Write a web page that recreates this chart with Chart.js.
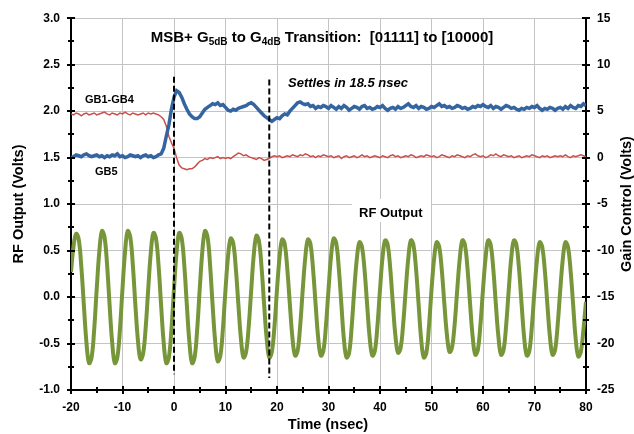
<!DOCTYPE html>
<html>
<head>
<meta charset="utf-8">
<script src="https://cdn.jsdelivr.net/npm/chart.js@4.4.0/dist/chart.umd.min.js"></script>
<style>
html,body{margin:0;padding:0;background:#fff;}
canvas{display:block;}
</style>
</head>
<body>
<canvas id="c" width="634" height="434"></canvas>
<script>
// ---- Data ----
const timeNs = [
 -20,-19.5,-19,-18.5,-18,-17.5,-17,-16.5,-16,-15.5,
 -15,-14.5,-14,-13.5,-13,-12.5,-12,-11.5,-11,-10.5,
 -10,-9.5,-9,-8.5,-8,-7.5,-7,-6.5,-6,-5.5,
 -5,-4.5,-4,-3.5,-3,-2.5,-2,-1.5,-1,-0.5,
 0,0.5,1,1.5,2,2.5,3,3.5,4,4.5,
 5,5.5,6,6.5,7,7.5,8,8.5,9,9.5,
 10,10.5,11,11.5,12,12.5,13,13.5,14,14.5,
 15,15.5,16,16.5,17,17.5,18,18.5,19,19.5,
 20,20.5,21,21.5,22,22.5,23,23.5,24,24.5,
 25,25.5,26,26.5,27,27.5,28,28.5,29,29.5,
 30,30.5,31,31.5,32,32.5,33,33.5,34,34.5,
 35,35.5,36,36.5,37,37.5,38,38.5,39,39.5,
 40,40.5,41,41.5,42,42.5,43,43.5,44,44.5,
 45,45.5,46,46.5,47,47.5,48,48.5,49,49.5,
 50,50.5,51,51.5,52,52.5,53,53.5,54,54.5,
 55,55.5,56,56.5,57,57.5,58,58.5,59,59.5,
 60,60.5,61,61.5,62,62.5,63,63.5,64,64.5,
 65,65.5,66,66.5,67,67.5,68,68.5,69,69.5,
 70,70.5,71,71.5,72,72.5,73,73.5,74,74.5,
 75,75.5,76,76.5,77,77.5,78,78.5,79,79.5,
 80
];

// RF Output (Volts), left axis
const rfOutput = [
 0.27,0.55,0.68,0.62,0.33,-0.09,-0.49,-0.71,-0.65,-0.35,
 0.09,0.49,0.71,0.65,0.35,-0.09,-0.49,-0.71,-0.65,-0.35,
 0.09,0.49,0.71,0.65,0.35,-0.085,-0.47,-0.67,-0.61,-0.33,
 0.09,0.48,0.69,0.63,0.34,-0.09,-0.49,-0.71,-0.65,-0.35,
 0.09,0.48,0.69,0.63,0.34,-0.09,-0.49,-0.71,-0.65,-0.35,
 0.09,0.49,0.71,0.65,0.35,-0.09,-0.48,-0.69,-0.63,-0.34,
 0.08,0.44,0.63,0.58,0.31,-0.08,-0.45,-0.65,-0.59,-0.32,
 0.08,0.46,0.66,0.60,0.32,-0.08,-0.45,-0.65,-0.59,-0.32,
 0.08,0.43,0.62,0.57,0.30,-0.08,-0.44,-0.63,-0.58,-0.31,
 0.08,0.43,0.62,0.57,0.30,-0.08,-0.44,-0.63,-0.58,-0.31,
 0.08,0.44,0.63,0.58,0.31,-0.08,-0.46,-0.65,-0.60,-0.32,
 0.075,0.41,0.59,0.54,0.29,-0.08,-0.44,-0.63,-0.58,-0.31,
 0.08,0.43,0.61,0.56,0.30,-0.075,-0.42,-0.60,-0.55,-0.29,
 0.08,0.42,0.61,0.56,0.30,-0.08,-0.46,-0.65,-0.60,-0.32,
 0.075,0.41,0.59,0.54,0.29,-0.075,-0.41,-0.59,-0.54,-0.29,
 0.08,0.42,0.61,0.56,0.30,-0.08,-0.43,-0.62,-0.57,-0.30,
 0.08,0.42,0.61,0.56,0.30,-0.08,-0.43,-0.62,-0.57,-0.30,
 0.08,0.43,0.61,0.56,0.30,-0.08,-0.44,-0.63,-0.58,-0.31,
 0.075,0.41,0.59,0.54,0.29,-0.08,-0.43,-0.62,-0.57,-0.30,
 0.075,0.41,0.59,0.54,0.29,-0.08,-0.45,-0.64,-0.59,-0.35,
 -0.05
];

// GB1-GB4 gain control (Volts), right axis
const gb1to4 = [
 0.0,0.1,0.3,0.2,0.1,0.3,0.4,0.2,0.1,0.2,
 0.3,0.1,0.2,0.0,0.2,0.1,0.3,0.2,0.4,0.1,
 0.2,0.0,0.1,0.3,0.2,0.1,0.2,0.0,0.2,0.3,
 0.1,0.2,0.0,0.1,0.3,0.4,1.0,2.3,3.5,5.2,
 6.5,7.2,7.0,6.5,5.8,5.2,4.7,4.4,4.2,4.2,
 4.4,4.8,5.2,5.4,5.6,5.8,5.7,5.9,5.6,5.7,
 5.4,5.1,5.0,5.2,5.1,5.3,5.4,5.5,5.6,5.8,
 5.9,5.7,5.4,5.1,4.8,4.5,4.3,4.1,3.9,4.1,
 4.3,4.2,4.5,4.7,4.6,5.0,5.3,5.6,5.9,6.0,
 5.8,5.7,5.8,5.5,5.6,5.3,5.5,5.4,5.6,5.5,
 5.3,5.6,5.4,5.2,5.5,5.3,5.6,5.4,5.1,5.3,
 5.5,5.4,5.2,5.5,5.6,5.3,5.4,5.2,5.3,5.5,
 5.4,5.6,5.3,5.1,5.3,5.4,5.2,5.5,5.3,5.4,
 5.6,5.8,5.5,5.4,5.6,5.3,5.5,5.4,5.2,5.3,
 5.5,5.4,5.6,5.8,5.5,5.6,5.4,5.5,5.3,5.4,
 5.6,5.5,5.3,5.4,5.2,5.3,5.5,5.4,5.6,5.5,
 5.7,5.5,5.4,5.6,5.3,5.5,5.4,5.2,5.4,5.6,
 5.5,5.3,5.4,5.2,5.1,5.3,5.2,5.4,5.3,5.5,
 5.4,5.6,5.3,5.1,5.3,5.2,5.4,5.3,5.1,5.3,
 5.4,5.2,5.5,5.3,5.6,5.4,5.3,5.6,5.5,5.8,
 5.6
];

// GB5 gain control (Volts), right axis
const gb5 = [
 4.7,4.6,4.8,4.7,4.5,4.7,4.8,4.6,4.7,4.8,
 4.6,4.7,4.8,4.9,4.7,4.6,4.8,4.7,4.6,4.8,
 4.7,4.9,4.7,4.6,4.8,4.7,4.6,4.7,4.8,4.6,
 4.8,4.7,4.8,4.7,4.6,4.4,4.1,3.4,2.3,1.6,
 1.0,0.0,-0.8,-1.1,-1.2,-1.3,-1.2,-1.2,-1.0,-0.7,
 -0.4,-0.3,-0.1,-0.2,0.0,-0.1,0.0,0.1,-0.1,0.0,
 -0.1,0.0,-0.1,0.1,0.3,0.5,0.4,0.2,0.3,0.1,
 0.0,-0.1,-0.2,0.0,-0.1,-0.3,-0.2,-0.1,0.1,0.2,
 0.1,0.2,0.0,0.1,0.2,0.1,0.3,0.2,0.1,0.3,
 0.2,0.4,0.3,0.1,0.2,0.0,0.2,0.1,0.3,0.2,
 0.1,0.2,0.0,0.1,0.2,-0.1,0.1,0.2,0.0,0.1,
 0.2,0.0,0.1,0.3,0.1,0.2,0.0,0.1,0.2,0.1,
 0.0,0.2,0.1,0.0,0.2,0.3,0.1,0.2,0.0,0.1,
 0.2,0.1,0.3,0.2,0.0,0.1,0.2,0.1,0.3,0.2,
 0.1,0.2,0.0,0.1,0.3,0.2,0.1,0.0,0.2,0.1,
 0.3,0.2,0.1,0.0,0.2,0.1,0.3,0.4,0.2,0.1,
 0.2,0.0,0.1,0.3,0.2,0.4,0.2,0.1,0.3,0.2,
 0.1,0.2,0.0,0.1,0.2,0.0,0.1,0.2,0.1,0.3,
 0.2,0.1,0.0,0.2,0.1,0.2,0.0,0.1,0.2,0.1,
 0.2,0.1,0.3,0.1,0.0,0.2,0.1,0.2,0.3,0.2,
 0.1
];

// Dashed marker lines (time, top, bottom in RF Output volts)
const markerTimes = [0, 18.5];
const markerTops = [2.37, 2.34];
const markerBottoms = [-0.83, -0.87];

// Axis settings
const xRange = [-20, 80];
const leftRange = [-1, 3];
const rightRange = [-25, 15];

// Text
const titleParts = [['MSB+ G', 0], ['5dB', 1], [' to G', 0], ['4dB', 1], [' Transition:  [01111] to [10000]', 0]];
const leftTitle = 'RF Output (Volts)';
const rightTitle = 'Gain Control (Volts)';
const xTitle = 'Time (nsec)';

// ---- Chart ----
const FONT = '"Liberation Sans", Arial, Helvetica, sans-serif';
const toXY = (ys) => ys.map((y, i) => ({x: timeNs[i], y}));

const markerSets = markerTimes.map((t, i) => ({
  label: 'marker' + i,
  data: [{x: t, y: markerTops[i]}, {x: t, y: markerBottoms[i]}],
  yAxisID: 'y',
  borderColor: '#000',
  borderWidth: 2,
  borderDash: [6, 3],
  pointRadius: 0,
  tension: 0
}));

const isMult = (v, m) => Math.abs(v / m - Math.round(v / m)) < 1e-6;

const decor = {
  id: 'decor',
  beforeDatasetsDraw(chart) {
    const ctx = chart.ctx;
    ctx.save();
    ctx.fillStyle = '#ffffff';
    ctx.fillRect(352, 199, 79, 23);
    ctx.restore();
  },
  afterDraw(chart) {
    const ctx = chart.ctx;
    const a = chart.chartArea;
    const sx = chart.scales.x, sy = chart.scales.y, sy1 = chart.scales.y1;
    ctx.save();
    ctx.strokeStyle = '#000';
    ctx.lineWidth = 2;
    const seg = (x1, y1, x2, y2) => { ctx.beginPath(); ctx.moveTo(x1, y1); ctx.lineTo(x2, y2); ctx.stroke(); };
    sx.ticks.forEach(t => {
      const p = Math.round(sx.getPixelForValue(t.value));
      const h = isMult(t.value, 10) ? 4 : 3;
      seg(p, a.bottom - h, p, a.bottom + h);
    });
    sy.ticks.forEach(t => {
      const p = Math.round(sy.getPixelForValue(t.value));
      const h = isMult(t.value, 0.5) ? 4 : 3;
      seg(a.left - h, p, a.left + h, p);
    });
    sy1.ticks.forEach(t => {
      const p = Math.round(sy1.getPixelForValue(t.value));
      const h = isMult(t.value, 5) ? 4 : 3;
      seg(a.right - h, p, a.right + h, p);
    });

    ctx.fillStyle = '#000';
    // Title with subscripts
    const mainF = 'bold 15px ' + FONT, subF = 'bold 10px ' + FONT;
    let total = 0;
    titleParts.forEach(([s, sub]) => { ctx.font = sub ? subF : mainF; total += ctx.measureText(s).width; });
    let x = 322 - total / 2;
    ctx.textAlign = 'left';
    ctx.textBaseline = 'alphabetic';
    titleParts.forEach(([s, sub]) => {
      ctx.font = sub ? subF : mainF;
      ctx.fillText(s, x, sub ? 45 : 42);
      x += ctx.measureText(s).width;
    });

    // Axis titles
    ctx.font = 'bold 14.5px ' + FONT;
    ctx.textAlign = 'center';
    ctx.textBaseline = 'middle';
    ctx.fillText(xTitle, 328, 425);
    ctx.save(); ctx.translate(19, 204); ctx.rotate(-Math.PI / 2); ctx.fillText(leftTitle, 0, 0); ctx.restore();
    ctx.save(); ctx.translate(627, 204); ctx.rotate(-Math.PI / 2); ctx.fillText(rightTitle, 0, 0); ctx.restore();

    // Annotations
    ctx.textAlign = 'left';
    ctx.font = 'bold 11px ' + FONT;
    ctx.fillText('GB1-GB4', 85, 100);
    ctx.fillText('GB5', 95, 172);
    ctx.font = 'italic bold 13px ' + FONT;
    ctx.fillText('Settles in 18.5 nsec', 288, 83);
    ctx.font = 'bold 13px ' + FONT;
    ctx.fillText('RF Output', 359, 213);
    ctx.restore();
  }
};

const tickFont = {family: FONT, size: 12, weight: 'bold'};

new Chart(document.getElementById('c'), {
  type: 'line',
  data: {
    datasets: [
      ...markerSets,
      {label: 'GB1-GB4', data: toXY(gb1to4), yAxisID: 'y1', borderColor: '#3465a0', borderWidth: 3.5, pointRadius: 0, tension: 0},
      {label: 'GB5', data: toXY(gb5), yAxisID: 'y1', borderColor: '#c8504c', borderWidth: 1.5, pointRadius: 0, tension: 0},
      {label: 'RF Output', data: toXY(rfOutput), yAxisID: 'y', borderColor: '#77963a', borderWidth: 4, pointRadius: 0, tension: 0.4}
    ]
  },
  options: {
    responsive: false,
    animation: false,
    devicePixelRatio: 1,
    layout: {padding: {top: 18, left: 0, right: 0, bottom: 0}},
    plugins: {legend: {display: false}, tooltip: {enabled: false}, title: {display: false}},
    scales: {
      x: {
        type: 'linear', min: xRange[0], max: xRange[1],
        afterFit: s => { s.height = 44; },
        border: {display: true, color: '#000', width: 2},
        grid: {drawTicks: false, color: c => (c.tick && isMult(c.tick.value, 10)) ? '#c4c4c4' : 'rgba(0,0,0,0)', lineWidth: 1},
        ticks: {stepSize: 5, autoSkip: false, maxRotation: 0, padding: 10, color: '#000', font: tickFont,
          callback: v => isMult(v, 10) ? String(v) : ''},
        title: {display: false}
      },
      y: {
        type: 'linear', position: 'left', min: leftRange[0], max: leftRange[1],
        afterFit: s => { s.width = 71; },
        border: {display: true, color: '#000', width: 2},
        grid: {drawTicks: false, color: c => (c.tick && isMult(c.tick.value, 0.5)) ? '#c4c4c4' : 'rgba(0,0,0,0)', lineWidth: 1},
        ticks: {stepSize: 0.25, autoSkip: false, padding: 11, color: '#000', font: tickFont,
          callback: v => isMult(v, 0.5) ? v.toFixed(1) : ''},
        title: {display: false}
      },
      y1: {
        type: 'linear', position: 'right', min: rightRange[0], max: rightRange[1],
        afterFit: s => { s.width = 48; },
        border: {display: true, color: '#000', width: 2},
        grid: {drawOnChartArea: false, drawTicks: false},
        ticks: {stepSize: 2.5, autoSkip: false, padding: 11, color: '#000', font: tickFont,
          callback: v => isMult(v, 5) ? String(v) : ''},
        title: {display: false}
      }
    }
  },
  plugins: [decor]
});
</script>
</body>
</html>
